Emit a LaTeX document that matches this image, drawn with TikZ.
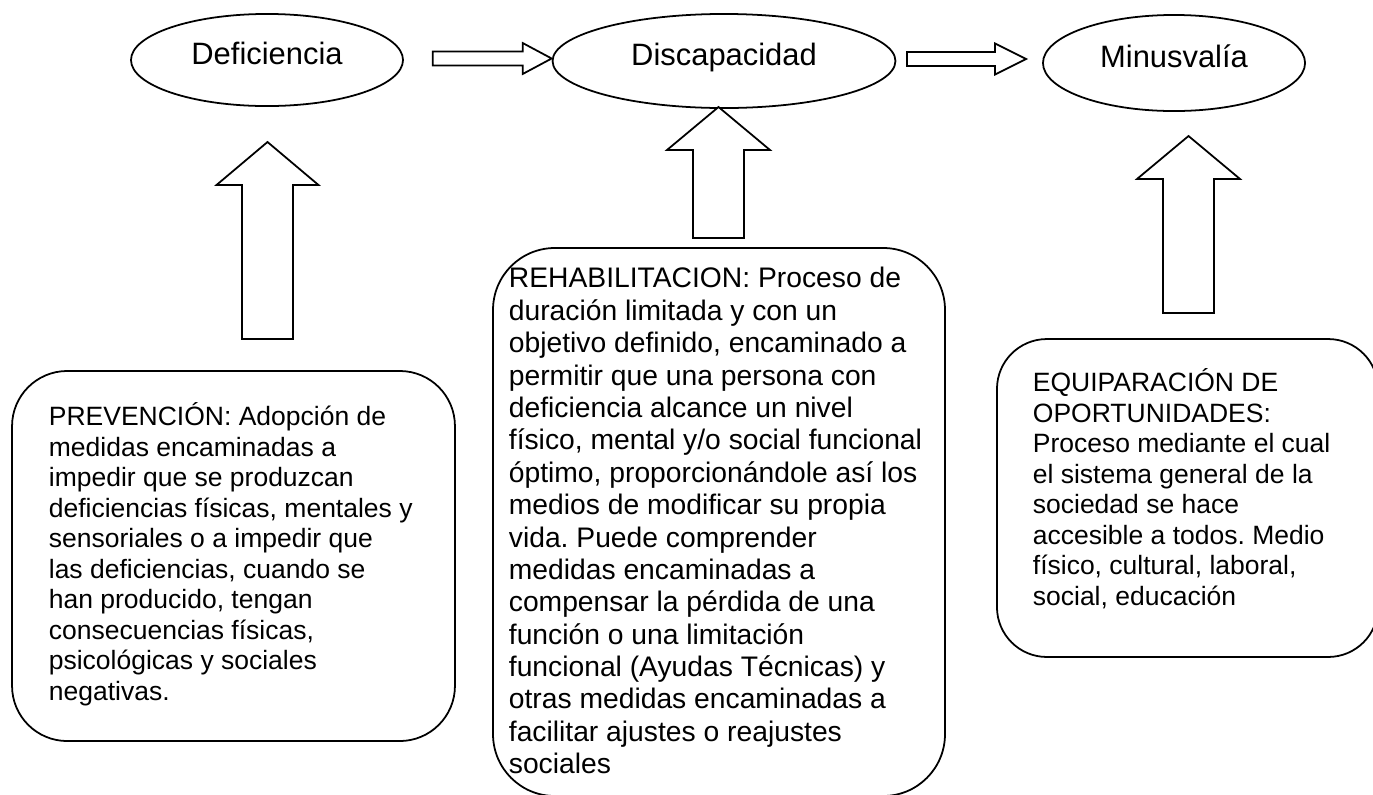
\documentclass[tikz,border=0pt]{standalone}
\usepackage{fontspec}
\setmainfont{Liberation Sans}
\usetikzlibrary{shapes.geometric,calc}
\frenchspacing
\begin{document}
\begin{tikzpicture}[x=0.45291pt, y=-0.45291pt, line width=0.8pt,
  oval/.style={ellipse, draw, inner sep=0pt, font=\fontsize{14}{16}\selectfont, text height=10pt, text depth=5.5pt},
  blockarrow/.style={draw, fill=white, line join=miter},
  roundbox/.style={draw, rectangle, inner sep=0pt, rounded corners=#1},
  boxtext/.style={anchor=north west, inner sep=0pt, align=left, font=\fontsize{12}{13.8}\selectfont\frenchspacing},
  boxtextb/.style={anchor=north west, inner sep=0pt, align=left, font=\fontsize{12.8}{14.67}\selectfont\frenchspacing}]
\useasboundingbox (0,0) rectangle (1373,794);

% ovals
\node[oval, minimum width=123.2pt, minimum height=41.7pt] (def) at (267,60) {Deficiencia};
\node[oval, minimum width=155.3pt, minimum height=42.6pt] (dis) at (724,61) {Discapacidad};
\node[oval, minimum width=118.7pt, minimum height=43.5pt] (min) at (1174,63) {Minusvalía};

% horizontal block arrows
\coordinate (tipA) at ($(dis.west)+(0,-2.5)$);
\coordinate (tipB) at ($(min.west)+(-16,-4)$);
\draw[blockarrow] (tipA) -- ++(-29,-15.5) -- ++(0,8.5) -- ++(-90,0) -- ++(0,14) -- ++(90,0) -- ++(0,8.5) -- cycle;
\draw[blockarrow] (tipB) -- ++(-31,-15.5) -- ++(0,8.5) -- ++(-88,0) -- ++(0,14) -- ++(88,0) -- ++(0,8.5) -- cycle;

% rounded boxes
\node[roundbox=25pt, minimum width=200.6pt, minimum height=167.6pt] (box1) at (233.5,556) {};
\node[roundbox=28pt, minimum width=204.7pt, minimum height=248.2pt] (box2) at (719,522) {};
\node[roundbox=22.6pt, minimum width=172.6pt, minimum height=144.0pt] (box3) at (1187.5,498) {};

% upward block arrows
\draw[blockarrow] (267.5,142) -- (318.5,185) -- (293,185) -- (293,339) -- (242,339) -- (242,185) -- (216.5,185) -- cycle;
\draw[blockarrow] (718.5,107) -- (770,150) -- (744,150) -- (744,238) -- (693,238) -- (693,150) -- (667,150) -- cycle;
\draw[blockarrow] (1188.5,136) -- (1240,179) -- (1214,179) -- (1214,313) -- (1163,313) -- (1163,179) -- (1137,179) -- cycle;

% texts
\node[boxtext] (t1) at (48,398.5) {\rule{0pt}{12pt}PREVENCIÓN: Adopción de\\
medidas encaminadas a\\
impedir que se produzcan\\
deficiencias físicas, mentales y\\
sensoriales o a impedir que\\
las deficiencias, cuando se\\
han producido, tengan\\
consecuencias físicas,\\
psicológicas y sociales\\
negativas.};

\node[boxtextb] (t2) at (508,260.5) {\rule{0pt}{12pt}REHABILITACION: Proceso de\\
duración limitada y con un\\
objetivo definido, encaminado a\\
permitir que una persona con\\
deficiencia alcance un nivel\\
físico, mental y/o social funcional\\
óptimo, proporcionándole así los\\
medios de modificar su propia\\
vida. Puede comprender\\
medidas encaminadas a\\
compensar la pérdida de una\\
función o una limitación\\
funcional (Ayudas Técnicas) y\\
otras medidas encaminadas a\\
facilitar ajustes o reajustes\\
sociales};

\node[boxtext] (t3) at (1032,364.5) {\rule{0pt}{12pt}EQUIPARACIÓN DE\\
OPORTUNIDADES:\\
Proceso mediante el cual\\
el sistema general de la\\
sociedad se hace\\
accesible a todos. Medio\\
físico, cultural, laboral,\\
social, educación};
\end{tikzpicture}
\end{document}
